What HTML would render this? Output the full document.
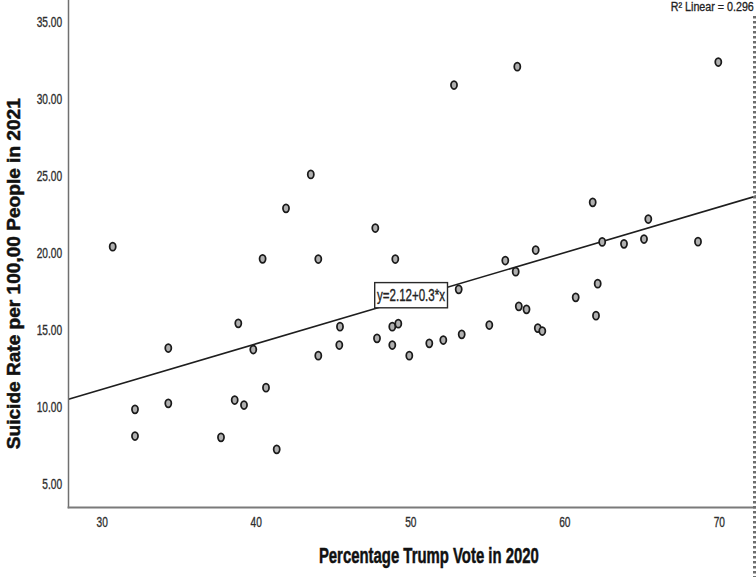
<!DOCTYPE html>
<html><head><meta charset="utf-8"><style>
html,body{margin:0;padding:0;background:#fff;}
body{width:756px;height:577px;overflow:hidden;}
svg{display:block;}
text{font-family:"Liberation Sans",sans-serif;}
</style></head><body>
<svg width="756" height="577" viewBox="0 0 756 577">
<rect width="756" height="577" fill="#fff"/>
<line x1="68.5" y1="399.2" x2="756" y2="196.1" stroke="#1e1e1e" stroke-width="1.6"/>
<rect x="374.7" y="282.6" width="72.8" height="25.2" fill="#fff" stroke="#2a2a2a" stroke-width="1.4"/>
<text x="377" y="301.2" font-size="16" fill="#222" stroke="#222" stroke-width="0.35" textLength="68" lengthAdjust="spacingAndGlyphs">y=2.12+0.3*x</text>
<g fill="#b0b0b0" stroke="#1a1a1a" stroke-width="1.75">
<ellipse cx="112.7" cy="246.7" rx="3.05" ry="4.0"/>
<ellipse cx="286" cy="208.3" rx="3.05" ry="4.0"/>
<ellipse cx="310.8" cy="174.4" rx="3.05" ry="4.0"/>
<ellipse cx="262.6" cy="258.8" rx="3.05" ry="4.0"/>
<ellipse cx="238.3" cy="323.3" rx="3.05" ry="4.0"/>
<ellipse cx="168.3" cy="348" rx="3.05" ry="4.0"/>
<ellipse cx="253.3" cy="349.5" rx="3.05" ry="4.0"/>
<ellipse cx="266" cy="387.7" rx="3.05" ry="4.0"/>
<ellipse cx="168.3" cy="403.3" rx="3.05" ry="4.0"/>
<ellipse cx="135" cy="409.3" rx="3.05" ry="4.0"/>
<ellipse cx="234.7" cy="400" rx="3.05" ry="4.0"/>
<ellipse cx="244" cy="405" rx="3.05" ry="4.0"/>
<ellipse cx="135" cy="436" rx="3.05" ry="4.0"/>
<ellipse cx="221" cy="437.3" rx="3.05" ry="4.0"/>
<ellipse cx="276.7" cy="449.3" rx="3.05" ry="4.0"/>
<ellipse cx="517.3" cy="66.7" rx="3.05" ry="4.0"/>
<ellipse cx="454" cy="85" rx="3.05" ry="4.0"/>
<ellipse cx="375.3" cy="228" rx="3.05" ry="4.0"/>
<ellipse cx="318.3" cy="259" rx="3.05" ry="4.0"/>
<ellipse cx="395.3" cy="259" rx="3.05" ry="4.0"/>
<ellipse cx="505.3" cy="260.5" rx="3.05" ry="4.0"/>
<ellipse cx="535.7" cy="250" rx="3.05" ry="4.0"/>
<ellipse cx="515.7" cy="271.7" rx="3.05" ry="4.0"/>
<ellipse cx="458.7" cy="289.3" rx="3.05" ry="4.0"/>
<ellipse cx="518.8" cy="306.3" rx="3.05" ry="4.0"/>
<ellipse cx="526.5" cy="309.3" rx="3.05" ry="4.0"/>
<ellipse cx="340" cy="326.7" rx="3.05" ry="4.0"/>
<ellipse cx="392.3" cy="326.7" rx="3.05" ry="4.0"/>
<ellipse cx="398.3" cy="323.7" rx="3.05" ry="4.0"/>
<ellipse cx="489.3" cy="325" rx="3.05" ry="4.0"/>
<ellipse cx="537.8" cy="328.1" rx="3.05" ry="4.0"/>
<ellipse cx="339.3" cy="345" rx="3.05" ry="4.0"/>
<ellipse cx="377" cy="338.3" rx="3.05" ry="4.0"/>
<ellipse cx="392.3" cy="345" rx="3.05" ry="4.0"/>
<ellipse cx="429.3" cy="343.3" rx="3.05" ry="4.0"/>
<ellipse cx="443.3" cy="340" rx="3.05" ry="4.0"/>
<ellipse cx="461.7" cy="334.3" rx="3.05" ry="4.0"/>
<ellipse cx="318.3" cy="355.7" rx="3.05" ry="4.0"/>
<ellipse cx="409.3" cy="355.7" rx="3.05" ry="4.0"/>
<ellipse cx="592.7" cy="202.3" rx="3.05" ry="4.0"/>
<ellipse cx="648.3" cy="219" rx="3.05" ry="4.0"/>
<ellipse cx="602.2" cy="241.9" rx="3.05" ry="4.0"/>
<ellipse cx="624" cy="243.8" rx="3.05" ry="4.0"/>
<ellipse cx="644" cy="239" rx="3.05" ry="4.0"/>
<ellipse cx="698" cy="241.7" rx="3.05" ry="4.0"/>
<ellipse cx="597.7" cy="283.7" rx="3.05" ry="4.0"/>
<ellipse cx="575.7" cy="297.3" rx="3.05" ry="4.0"/>
<ellipse cx="596" cy="315.7" rx="3.05" ry="4.0"/>
<ellipse cx="542.3" cy="331" rx="3.05" ry="4.0"/>
<ellipse cx="718.3" cy="62" rx="3.05" ry="4.0"/>
</g>
<line x1="68.5" y1="0" x2="68.5" y2="508.3" stroke="#707070" stroke-width="1.5"/>
<line x1="67.6" y1="507.6" x2="756" y2="507.6" stroke="#7a7a7a" stroke-width="2"/>
<line x1="754.5" y1="16.1" x2="754.5" y2="577" stroke="#6e6e6e" stroke-width="3" stroke-dasharray="2.5 2.5"/>
<g font-size="14.5" fill="#2e2e2e" stroke="#2e2e2e" stroke-width="0.35">
<text x="62.1" y="27.3" text-anchor="end" textLength="25.4" lengthAdjust="spacingAndGlyphs">35.00</text>
<text x="62.1" y="104.3" text-anchor="end" textLength="25.4" lengthAdjust="spacingAndGlyphs">30.00</text>
<text x="62.1" y="181.3" text-anchor="end" textLength="25.4" lengthAdjust="spacingAndGlyphs">25.00</text>
<text x="62.1" y="258.4" text-anchor="end" textLength="25.4" lengthAdjust="spacingAndGlyphs">20.00</text>
<text x="62.1" y="335.4" text-anchor="end" textLength="25.4" lengthAdjust="spacingAndGlyphs">15.00</text>
<text x="62.1" y="412.4" text-anchor="end" textLength="25.4" lengthAdjust="spacingAndGlyphs">10.00</text>
<text x="62.1" y="489.4" text-anchor="end" textLength="19.8" lengthAdjust="spacingAndGlyphs">5.00</text>
<text x="96.55" y="527.3" textLength="11.3" lengthAdjust="spacingAndGlyphs">30</text>
<text x="250.55" y="527.3" textLength="11.3" lengthAdjust="spacingAndGlyphs">40</text>
<text x="405.15" y="527.3" textLength="11.3" lengthAdjust="spacingAndGlyphs">50</text>
<text x="559.15" y="527.3" textLength="11.3" lengthAdjust="spacingAndGlyphs">60</text>
<text x="713.65" y="527.3" textLength="11.3" lengthAdjust="spacingAndGlyphs">70</text>

</g>
<text x="670.8" y="10.8" font-size="12.5" fill="#222" stroke="#222" stroke-width="0.3" textLength="83" lengthAdjust="spacingAndGlyphs">R² Linear = 0.296</text>
<text x="318.9" y="563.2" font-size="22" font-weight="bold" fill="#111" stroke="#111" stroke-width="0.5" textLength="220" lengthAdjust="spacingAndGlyphs">Percentage Trump Vote in 2020</text>
<text transform="translate(20,449.2) rotate(-90)" x="0" y="0" font-size="17.5" font-weight="bold" fill="#111" stroke="#111" stroke-width="0.5" textLength="351" lengthAdjust="spacingAndGlyphs">Suicide Rate per 100,00 People in 2021</text>
</svg>
</body></html>
